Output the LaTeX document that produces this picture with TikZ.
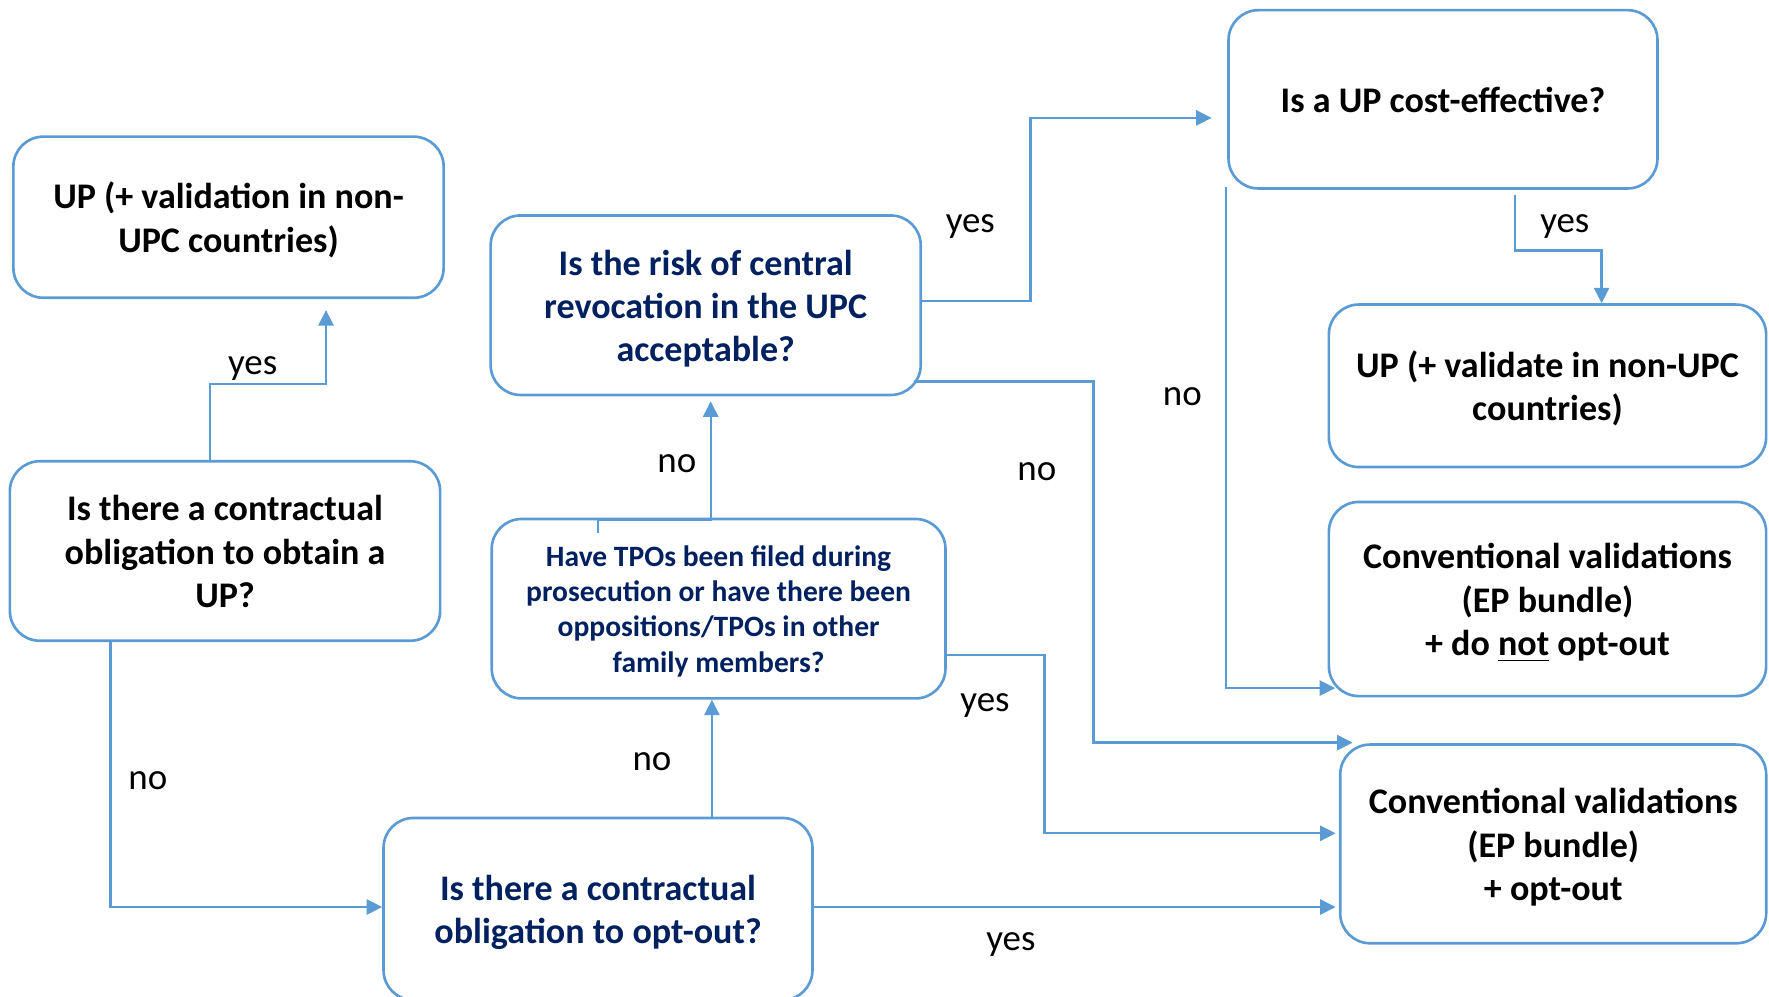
\documentclass[tikz,border=0pt]{standalone}
\usepackage{fontspec}
\setmainfont{Carlito}
\usetikzlibrary{arrows.meta,calc}
\definecolor{lineblue}{HTML}{5B9BD5}
\definecolor{textnavy}{HTML}{002060}
% fixed line struts so every text line has the same ascent and descent
\newcommand{\lnst}{\rule[-2.4pt]{0pt}{12.3pt}}
\newcommand{\smst}{\rule[-2.05pt]{0pt}{10.05pt}}

\begin{document}
\begin{tikzpicture}[x=0.01cm,y=-0.01cm,
  box/.style={draw=lineblue, line width=0.75pt, rounded corners=8.5pt, align=center,
              inner sep=0pt, font=\fontsize{10.25}{12.3}\selectfont\bfseries},
  navy/.style={text=textnavy},
  smalltext/.style={font=\fontsize{8.4}{10.05}\selectfont\bfseries},
  conn/.style={draw=lineblue, line width=0.65pt, -{Triangle[length=4.4pt,width=4.3pt]}},
  lab/.style={font=\fontsize{10.5}{12}\selectfont, inner sep=0pt, anchor=base}]

\useasboundingbox (0,0) rectangle (1769,996);

% decision and outcome boxes
\node[box, minimum width=4.30cm, minimum height=1.61cm] (upval) at (228.5,217.2)
  {\lnst UP (+ validation in non-\\\lnst UPC countries)};
\node[box, minimum width=4.30cm, minimum height=1.794cm] (obtainup) at (225,551)
  {\lnst Is there a contractual\\obligation to obtain a\\\lnst UP?};
\node[box, navy, minimum width=4.298cm, minimum height=1.794cm] (risk) at (705.7,305.2)
  {\lnst Is the risk of central\\revocation in the UPC\\\lnst acceptable?};
\node[box, navy, smalltext, minimum width=4.535cm, minimum height=1.793cm] (tpo) at (718.6,608.7)
  {\smst Have TPOs been filed during\\prosecution or have there been\\oppositions/TPOs in other\\\smst family members?};
\node[box, navy, minimum width=4.287cm, minimum height=1.82cm] (optobl) at (598,909)
  {\lnst Is there a contractual\\\lnst obligation to opt-out?};
\node[box, minimum width=4.287cm, minimum height=1.782cm] (cost) at (1443,99.3)
  {\lnst Is a UP cost-effective?};
\node[box, minimum width=4.37cm, minimum height=1.624cm] (upnon) at (1547.5,385.8)
  {\lnst UP (+ validate in non-UPC\\\lnst countries)};
\node[box, minimum width=4.37cm, minimum height=1.94cm] (convno) at (1547.5,599)
  {\lnst Conventional validations\\(EP bundle)\\\lnst + do \underline{not} opt-out};
\node[box, minimum width=4.257cm, minimum height=1.986cm] (convopt) at (1553.2,843.9)
  {\lnst Conventional validations\\(EP bundle)\\\lnst + opt-out};

% connectors
\draw[conn] ($(obtainup.north)+(-15.2,0)$) |- ($(upval.south)+(97.5,85)$)
  -- ($(upval.south)+(97.5,11)$);
\draw[conn] ($(obtainup.south)+(-114.4,0)$) |- ($(optobl.west)+(0,-2)$);
\draw[conn] ($(optobl.north)+(113.9,0)$) coordinate (eup) -- (eup |- tpo.south);
\draw[conn] ($(optobl.east)+(0,-2)$) coordinate (eright)
  -- ($(eright -| convopt.west)+(-3.3,0)$);
\draw[conn] ($(tpo.north)+(-120.6,15)$) -- ($(tpo.north)+(-120.6,1.7)$)
  -| ($(risk.south)+(5,5)$);
\draw[conn] ($(tpo.east)+(0,46.3)$) -| ($(convopt.west)+(-294.3,-10.6)$)
  -- ($(convopt.west)+(-3.3,-10.6)$);
\draw[conn] ($(risk.east)+(0,-4.2)$) -| ($(cost.west)+(-196.6,18.6)$)
  -- ($(cost.west)+(-15.6,18.6)$);
\draw[conn] ($(risk.south east)+(-7.6,-14.9)$) -| ($(convopt.north west)+(-245.3,-0.6)$)
  -- ($(convopt.north west)+(13.7,-0.6)$);
\draw[conn] ($(cost.south)+(72,5.6)$) -- ($(cost.south)+(72,60.6)$)
  -| ($(upnon.north)+(54.1,0)$);
\draw[conn] ($(cost.south west)+(-0.9,-2.7)$) |- ($(convno.south west)+(7.6,-9.3)$);

% branch labels
\node[lab] (l1) at (252.7,374.3) {yes};
\node[lab] (l2) at (147.8,789.5) {no};
\node[lab] (l3) at (652,770.3) {no};
\node[lab] (l4) at (1010.9,950.8) {yes};
\node[lab] (l5) at (676.9,472.4) {no};
\node[lab] (l6) at (985,711.6) {yes};
\node[lab] (l7) at (970.3,232.1) {yes};
\node[lab] (l8) at (1036.8,480.3) {no};
\node[lab] (l9) at (1564.8,232.1) {yes};
\node[lab] (l10) at (1182.3,405.9) {no};
\end{tikzpicture}
\end{document}
